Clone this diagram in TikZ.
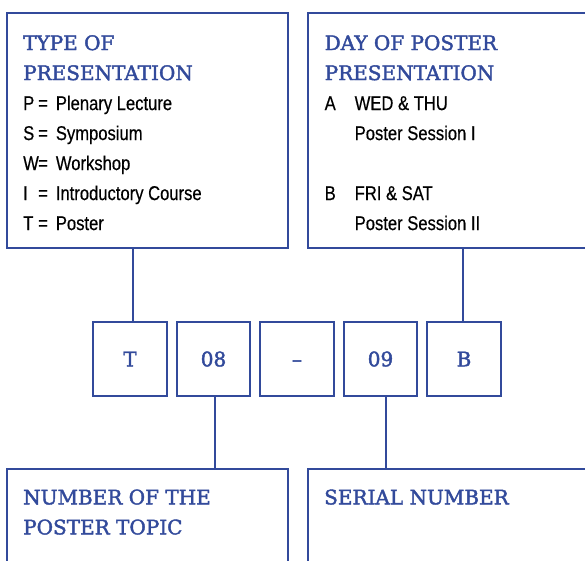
\documentclass[tikz,border=0pt]{standalone}
\usepackage{fontspec}
\setmainfont{Liberation Sans}[FakeStretch=0.83, FakeBold=0.4]
\newfontfamily\slabfont{DejaVu Serif}[FakeBold=2, Ligatures=TeX]
\usetikzlibrary{positioning}
\definecolor{posterblue}{RGB}{50,74,155}
\newcommand{\heading}[1]{{\slabfont\color{posterblue}#1}}
\newcommand{\code}[1]{\makebox[15pt][l]{#1}=\hspace{8pt}}
\newcommand{\daykey}[1]{\makebox[30pt][l]{#1}}

\begin{document}
\begin{tikzpicture}[x=1pt, y=1pt,
  frame/.style={draw=posterblue, line width=2pt, inner sep=0pt, anchor=north west},
  codebox/.style={draw=posterblue, line width=2pt, minimum size=73.5pt, inner sep=0pt,
    text height=14.6pt, text depth=0pt,
    text=posterblue, font=\slabfont\fontsize{20}{24}\selectfont},
  info/.style={anchor=north west, align=left, inner sep=0pt, font=\fontsize{20}{30}\selectfont},
  link/.style={draw=posterblue, line width=2pt}
]
\useasboundingbox (0,0) rectangle (585,-560);
\clip (0,0) rectangle (585,-560);

% frames
\node[frame, minimum width=281pt, minimum height=235pt] (typebox) at (6,-11.7) {};
\node[frame, minimum width=300pt, minimum height=235pt] (daybox) at (307,-11.7) {};
\node[frame, minimum width=280.5pt, minimum height=120pt] (topicbox) at (6,-468.3) {};
\node[frame, minimum width=300pt, minimum height=120pt] (serialbox) at (307,-468.3) {};

% texts
\node[info] (typetext) at ([xshift=17pt, yshift=-23.3pt]typebox.north west) {%
\heading{TYPE OF}\\
\heading{PRESENTATION}\\
\code{P}Plenary Lecture\\
\code{S}Symposium\\
\code{W}Workshop\\
\code{I}Introductory Course\\
\code{T}Poster};

\node[info] (daytext) at ([xshift=17.5pt, yshift=-23.3pt]daybox.north west) {%
\heading{DAY OF POSTER}\\
\heading{PRESENTATION}\\
\daykey{A}WED \& THU\\
\daykey{}Poster Session I\\
\\
\daykey{B}FRI \& SAT\\
\daykey{}Poster Session II};

\node[info] (topictext) at ([xshift=17pt, yshift=-21pt]topicbox.north west) {%
\heading{NUMBER OF THE}\\
\heading{POSTER TOPIC}};

\node[info] (serialtext) at ([xshift=17pt, yshift=-21pt]serialbox.north west) {%
\heading{SERIAL NUMBER}};

% code boxes
\node[codebox] (codeT) at (130,-359) {T};
\node[codebox, right=8pt of codeT] (codeTopic) {08};
\node[codebox, right=8pt of codeTopic] (codeDash) {--};
\node[codebox, right=8pt of codeDash] (codeSerial) {09};
\node[codebox, right=8pt of codeSerial] (codeDay) {B};

% links
\draw[link] ([xshift=3pt]codeT.north) -- ([xshift=3pt]codeT.north |- typebox.south);
\draw[link] ([xshift=-1.5pt]codeDay.north) -- ([xshift=-1.5pt]codeDay.north |- daybox.south);
\draw[link] ([xshift=1.5pt]codeTopic.south) -- ([xshift=1.5pt]codeTopic.south |- topicbox.north);
\draw[link] ([xshift=5.5pt]codeSerial.south) -- ([xshift=5.5pt]codeSerial.south |- serialbox.north);

\end{tikzpicture}
\end{document}
